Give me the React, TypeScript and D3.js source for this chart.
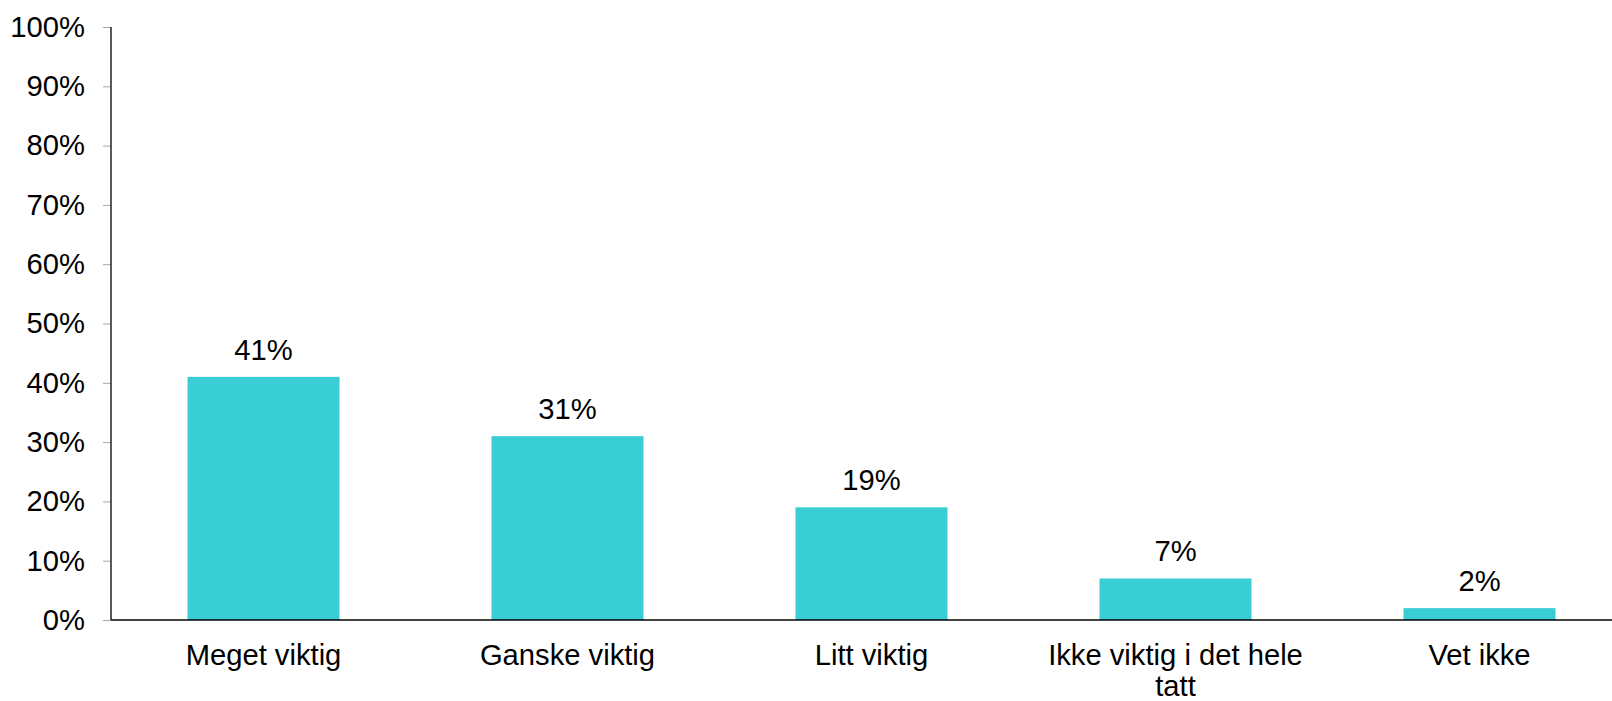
import React, { useEffect, useRef } from "react";
import * as d3 from "d3";

// chart data
const categories = [
  "Meget viktig",
  "Ganske viktig",
  "Litt viktig",
  "Ikke viktig i det hele tatt",
  "Vet ikke",
];
const values = [41, 31, 19, 7, 2];
const yTicks = [0, 10, 20, 30, 40, 50, 60, 70, 80, 90, 100];

const width = 1612;
const height = 701;
const font = "'Liberation Sans', Arial, sans-serif";
const fontSize = 29.2;

const App = () => {
  const ref = useRef<SVGSVGElement>(null);

  useEffect(() => {
    const svg = d3.select(ref.current);
    svg.selectAll("*").remove();

    const left = 111.5;
    const x = d3
      .scaleBand()
      .domain(categories)
      .range([left, left + 5 * 304])
      .paddingInner(0.5)
      .paddingOuter(0.25);

    const y = d3.scaleLinear().domain([0, 100]).range([620, 27]);

    // bars
    svg
      .selectAll(".bar")
      .data(values)
      .enter()
      .append("rect")
      .attr("class", "bar")
      .attr("x", (d, i) => x(categories[i]))
      .attr("y", (d) => y(d))
      .attr("width", x.bandwidth())
      .attr("height", (d) => y(0) - y(d))
      .attr("fill", "#38ced4");

    // value labels
    svg
      .selectAll(".val")
      .data(values)
      .enter()
      .append("text")
      .attr("class", "val")
      .attr("x", (d, i) => x(categories[i]) + x.bandwidth() / 2)
      .attr("y", (d) => y(d) - 17)
      .attr("text-anchor", "middle")
      .style("font-family", font)
      .style("font-size", fontSize + "px")
      .attr("fill", "#000")
      .text((d) => d + "%");

    // y axis
    const yAxis = svg
      .append("g")
      .attr("transform", "translate(111,0)")
      .call(
        d3
          .axisLeft(y)
          .tickValues(yTicks)
          .tickSize(8)
          .tickPadding(18)
          .tickFormat((d) => d + "%")
      );
    yAxis.select(".domain").remove();
    yAxis.selectAll(".tick line").attr("stroke", "#a6a6a6").attr("stroke-width", 1);
    yAxis
      .selectAll(".tick text")
      .style("font-family", font)
      .style("font-size", fontSize + "px")
      .attr("fill", "#000");

    svg
      .append("line")
      .attr("x1", 111)
      .attr("x2", 111)
      .attr("y1", y(100))
      .attr("y2", y(0))
      .attr("stroke", "#000")
      .attr("stroke-width", 1.3);

    // x axis
    svg
      .append("line")
      .attr("x1", 111)
      .attr("x2", width)
      .attr("y1", y(0))
      .attr("y2", y(0))
      .attr("stroke", "#000")
      .attr("stroke-width", 1.3);

    // category labels, wrapped
    const maxW = 270;
    categories.forEach((c) => {
      const cx = x(c) + x.bandwidth() / 2;
      const t = svg
        .append("text")
        .attr("x", cx)
        .attr("y", 665)
        .attr("text-anchor", "middle")
        .style("font-family", font)
        .style("font-size", fontSize + "px")
        .attr("fill", "#000");
      const words = c.split(" ");
      let line: string[] = [];
      let tspan = t.append("tspan").attr("x", cx).attr("dy", 0);
      words.forEach((w) => {
        line.push(w);
        tspan.text(line.join(" "));
        if ((tspan.node() as SVGTSpanElement).getComputedTextLength() > maxW && line.length > 1) {
          line.pop();
          tspan.text(line.join(" "));
          line = [w];
          tspan = t.append("tspan").attr("x", cx).attr("dy", 30.5).text(w);
        }
      });
    });
  }, []);

  return (
    <svg
      ref={ref}
      width={width}
      height={height}
      style={{ position: "absolute", left: 0, top: 0, background: "#fff" }}
    ></svg>
  );
};

export default App;
